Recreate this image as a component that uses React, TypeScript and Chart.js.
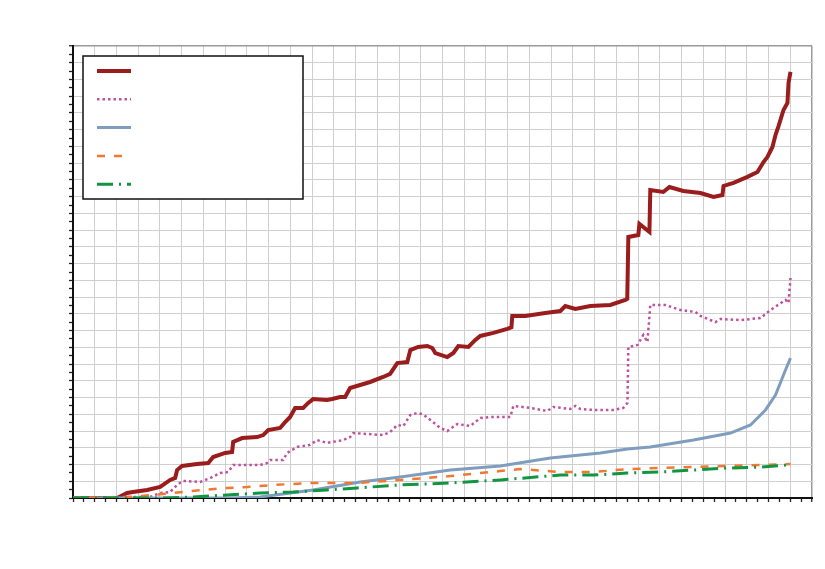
import React, { useEffect, useRef } from "react";
import { Chart, registerables } from "chart.js";

Chart.register(...registerables);

// x positions are in grid units (34 columns), y in grid units (27 rows)
const redX = [0, 2.03, 2.49, 2.76, 3.41, 4.01, 4.47, 4.7, 4.79, 5.02, 5.71, 6.22, 6.45, 7.0, 7.32, 7.37, 7.78, 8.47, 8.75, 8.98, 9.53, 9.76, 9.99, 10.22, 10.59, 10.82, 11.05, 11.69, 11.92, 12.29, 12.52, 12.75, 13.21, 13.67, 14.27, 14.59, 14.92, 15.38, 15.52, 15.88, 16.3, 16.53, 16.67, 17.22, 17.5, 17.73, 18.19, 18.51, 18.74, 19.34, 19.98, 20.17, 20.21, 20.81, 21.73, 22.42, 22.65, 23.11, 23.8, 24.72, 25.41, 25.5, 25.55, 26.01, 26.06, 26.52, 26.56, 27.16, 27.44, 28.08, 28.87, 29.47, 29.88, 29.93, 30.39, 31.03, 31.49, 31.77, 31.95, 32.18, 32.32, 32.46, 32.69, 32.87, 32.92, 33.01];
const redY = [0, 0, 0.3, 0.36, 0.48, 0.66, 1.08, 1.2, 1.67, 1.91, 2.03, 2.09, 2.45, 2.69, 2.75, 3.35, 3.58, 3.64, 3.76, 4.06, 4.18, 4.54, 4.84, 5.38, 5.38, 5.68, 5.91, 5.85, 5.91, 6.03, 6.03, 6.57, 6.75, 6.93, 7.23, 7.41, 8.06, 8.12, 8.84, 9.02, 9.08, 8.96, 8.66, 8.42, 8.66, 9.08, 9.02, 9.44, 9.68, 9.86, 10.1, 10.2, 10.87, 10.87, 11.05, 11.17, 11.47, 11.29, 11.47, 11.53, 11.83, 11.9, 15.59, 15.71, 16.37, 15.89, 18.4, 18.28, 18.58, 18.34, 18.22, 17.98, 18.1, 18.64, 18.82, 19.18, 19.47, 20.07, 20.37, 20.97, 21.68, 22.22, 23.18, 23.6, 24.79, 25.45];

const pinkX = [0, 2.62, 3.55, 4.01, 4.47, 4.79, 5.06, 5.85, 6.31, 6.77, 7.14, 7.37, 8.61, 8.93, 9.07, 9.67, 9.85, 10.31, 10.91, 11.23, 11.69, 12.43, 12.75, 12.89, 14.27, 14.59, 14.92, 15.2, 15.52, 15.84, 16.1, 16.44, 16.9, 17.22, 17.68, 18.28, 18.74, 19.2, 20.12, 20.26, 21.04, 21.82, 22.1, 22.88, 23.11, 23.34, 23.94, 24.86, 25.32, 25.51, 25.55, 25.97, 26.24, 26.43, 26.56, 27.26, 27.95, 28.64, 28.87, 29.56, 29.79, 30.71, 31.63, 32.09, 32.78, 32.92, 33.01];
const pinkY = [0, 0.06, 0.06, 0.3, 0.36, 0.78, 1.02, 0.96, 1.19, 1.49, 1.55, 1.97, 1.97, 2.09, 2.27, 2.27, 2.69, 3.05, 3.17, 3.46, 3.29, 3.46, 3.64, 3.88, 3.76, 3.94, 4.36, 4.3, 4.96, 5.08, 5.0, 4.66, 4.18, 4.0, 4.42, 4.3, 4.78, 4.84, 4.84, 5.5, 5.38, 5.2, 5.44, 5.32, 5.5, 5.32, 5.26, 5.26, 5.38, 5.68, 9.02, 9.14, 9.74, 9.32, 11.53, 11.53, 11.23, 11.11, 10.87, 10.51, 10.69, 10.63, 10.75, 11.23, 11.83, 11.65, 13.14];

const blueX = [0, 7.23, 8.61, 11.05, 13.21, 15.06, 17.36, 19.66, 21.96, 24.26, 25.51, 26.56, 28.55, 30.25, 31.17, 31.86, 32.32, 32.78, 33.01];
const blueY = [0, 0, 0.06, 0.48, 0.96, 1.25, 1.67, 1.91, 2.39, 2.69, 2.93, 3.05, 3.46, 3.88, 4.36, 5.26, 6.15, 7.65, 8.36];

const orangeX = [0, 2.62, 3.68, 5.06, 5.99, 7.09, 8.01, 9.21, 11.05, 13.08, 15.06, 17.36, 19.66, 20.58, 22.42, 23.94, 25.51, 27.03, 28.55, 30.11, 31.63, 33.01];
const orangeY = [0, 0.06, 0.18, 0.36, 0.48, 0.6, 0.66, 0.78, 0.9, 0.9, 1.08, 1.31, 1.61, 1.73, 1.55, 1.55, 1.73, 1.79, 1.85, 1.91, 1.97, 2.03];

const greenX = [0, 4.01, 5.52, 7.09, 8.61, 10.13, 11.69, 13.08, 15.06, 17.36, 19.66, 22.42, 23.94, 25.51, 27.03, 28.55, 30.11, 31.63, 32.87, 33.01];
const greenY = [0, 0, 0.06, 0.18, 0.3, 0.36, 0.48, 0.6, 0.78, 0.9, 1.08, 1.37, 1.37, 1.49, 1.55, 1.67, 1.79, 1.85, 1.97, 2.03];

const X_MAX = 34;
const Y_MAX = 27;

const pts = (xs: number[], ys: number[]) => xs.map((x, i) => ({ x, y: ys[i] }));

const legendPlugin = {
  id: "boxLegend",
  afterDraw(chart: any) {
    const ctx = chart.ctx;
    const left = 83, top = 56, w = 220, h = 143;
    ctx.save();
    ctx.fillStyle = "#ffffff";
    ctx.fillRect(left, top, w, h);
    ctx.strokeStyle = "#111111";
    ctx.lineWidth = 1.5;
    ctx.strokeRect(left, top, w, h);
    chart.data.datasets.forEach((ds: any, i: number) => {
      const y = 71 + i * 28.3;
      ctx.beginPath();
      ctx.strokeStyle = ds.borderColor;
      ctx.lineWidth = ds.borderWidth;
      ctx.setLineDash(ds.borderDash || []);
      ctx.lineCap = "butt";
      ctx.moveTo(97, y);
      ctx.lineTo(131, y);
      ctx.stroke();
    });
    ctx.restore();
  },
};

export default function App() {
  const ref = useRef<HTMLCanvasElement>(null);
  useEffect(() => {
    if (!ref.current) return;
    const chart = new Chart(ref.current, {
      type: "line",
      data: {
        datasets: [
          { label: "A", data: pts(redX, redY), borderColor: "#9b1c1c", borderWidth: 4, order: 5 },
          { label: "B", data: pts(pinkX, pinkY), borderColor: "#c0509e", borderWidth: 2.5, borderDash: [2.5, 3], order: 4 },
          { label: "C", data: pts(blueX, blueY), borderColor: "#7f9dbf", borderWidth: 3, order: 3 },
          { label: "D", data: pts(orangeX, orangeY), borderColor: "#f07830", borderWidth: 2.5, borderDash: [8, 9], order: 2 },
          { label: "E", data: pts(greenX, greenY), borderColor: "#109640", borderWidth: 3, borderDash: [16, 6, 2, 6], order: 1 },
        ] as any,
      },
      options: {
        animation: false,
        responsive: false,
        devicePixelRatio: 1,
        elements: { point: { radius: 0 }, line: { tension: 0, fill: false } },
        layout: { padding: { left: 67, right: 13, top: 46, bottom: 65 } },
        plugins: { legend: { display: false }, tooltip: { enabled: false } },
        scales: {
          x: {
            type: "linear",
            min: 0,
            max: X_MAX,
            afterFit: (s: any) => { s.height = 6; },
            ticks: { display: false, stepSize: 0.5, autoSkip: false },
            grid: {
              color: (c: any) => (c.tick && c.tick.value === X_MAX ? "#9a9a9a" : c.tick && Number.isInteger(c.tick.value) ? "#cfcfcf" : "rgba(0,0,0,0)"),
              lineWidth: (c: any) => (c.tick && c.tick.value === X_MAX ? 1.5 : 1),
              tickColor: "#222222",
              tickLength: 4,
              tickWidth: 1.3,
            },
            border: { color: "#111111", width: 2 },
          },
          y: {
            type: "linear",
            min: 0,
            max: Y_MAX,
            afterFit: (s: any) => { s.width = 6; },
            ticks: { display: false, stepSize: 0.5, autoSkip: false },
            grid: {
              color: (c: any) => (c.tick && c.tick.value === Y_MAX ? "#9a9a9a" : c.tick && Number.isInteger(c.tick.value) ? "#cfcfcf" : "rgba(0,0,0,0)"),
              lineWidth: (c: any) => (c.tick && c.tick.value === Y_MAX ? 1.5 : 1),
              tickColor: "#222222",
              tickLength: 4,
              tickWidth: 1.3,
            },
            border: { color: "#111111", width: 2 },
          },
        },
      } as any,
      plugins: [legendPlugin],
    });
    return () => chart.destroy();
  }, []);
  return (
    <div style={{ position: "absolute", left: 0, top: 0, width: 825, height: 569, background: "#fff" }}>
      <canvas ref={ref} width={825} height={569} />
    </div>
  );
}
